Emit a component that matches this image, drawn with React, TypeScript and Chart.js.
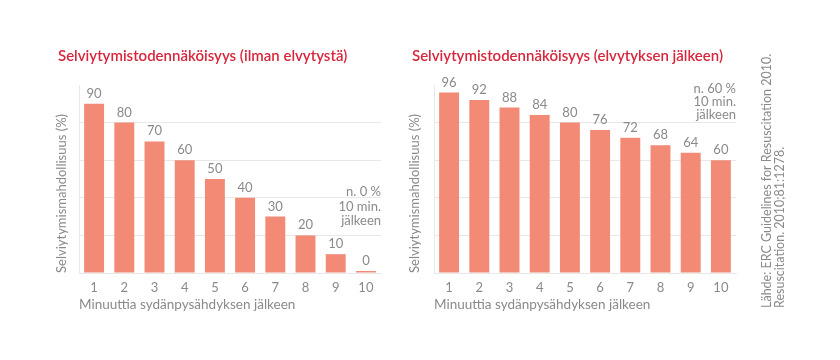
import React, { useEffect, useRef } from "react";
import { Chart, registerables } from "chart.js";

Chart.register(...registerables);

const minutes = ["1", "2", "3", "4", "5", "6", "7", "8", "9", "10"];
const survivalWithoutCpr = [90, 80, 70, 60, 50, 40, 30, 20, 10, 0];
const survivalWithCpr = [96, 92, 88, 84, 80, 76, 72, 68, 64, 60];
const titleWithoutCpr = "Selviytymistodennäköisyys (ilman elvytystä)";
const titleWithCpr = "Selviytymistodennäköisyys (elvytyksen jälkeen)";
const yAxisTitle = "Selviytymismahdollisuus (%)";
const xAxisTitle = "Minuuttia sydänpysähdyksen jälkeen";
const noteWithoutCpr = ["n. 0 %", "10 min.", "jälkeen"];
const noteWithCpr = ["n. 60 %", "10 min.", "jälkeen"];
const sourceLines = [
  "Lähde: ERC Guidelines for Resuscitation 2010.",
  "Resuscitation. 2010;81:1278.",
];

const FONT = "Lato, 'Open Sans', sans-serif";
const BAR = "#f28a75";
const RED = "#d7263c";
const GREY = "#8a8a8a";
const GRID = "#e8e8e8";

type Cfg = {
  data: number[];
  title: string;
  note: string[];
  noteOffsets: number[];
  padLeft: number;
  padRight: number;
  yWidth: number;
  yTitlePad: number;
  source?: boolean;
};

const labelsPlugin = {
  id: "barLabels",
  afterDatasetsDraw(chart: any) {
    const ctx = chart.ctx;
    const meta = chart.getDatasetMeta(0);
    const values = chart.data.datasets[0].data;
    ctx.save();
    ctx.font = `13px ${FONT}`;
    ctx.fillStyle = GREY;
    ctx.textAlign = "center";
    ctx.textBaseline = "alphabetic";
    meta.data.forEach((bar: any, i: number) => {
      ctx.fillText(String(values[i]), bar.x, bar.y - 6);
    });
    ctx.restore();
  },
};

const notePlugin = {
  id: "note",
  afterDraw(chart: any, _args: any, opts: any) {
    const ctx = chart.ctx;
    const area = chart.chartArea;
    ctx.save();
    ctx.font = `13px ${FONT}`;
    ctx.fillStyle = GREY;
    ctx.textAlign = "right";
    ctx.textBaseline = "middle";
    (opts.lines || []).forEach((t: string, i: number) => {
      ctx.fillText(t, area.right + (opts.dx || 0), area.top + opts.offsets[i]);
    });
    if (opts.source) {
      ctx.font = `12.5px ${FONT}`;
      ctx.textAlign = "left";
      ctx.translate(area.right + 31, 308);
      ctx.rotate(-Math.PI / 2);
      sourceLines.forEach((t, i) => ctx.fillText(t, 0, i * 13));
    }
    ctx.restore();
  },
};

function makeConfig(c: Cfg): any {
  return {
    type: "bar",
    data: {
      labels: minutes,
      datasets: [
        {
          data: c.data,
          backgroundColor: BAR,
          categoryPercentage: 1,
          barPercentage: 0.66,
          minBarLength: 2,
        },
      ],
    },
    plugins: [labelsPlugin, notePlugin],
    options: {
      animation: false,
      responsive: false,
      layout: { padding: { left: c.padLeft, right: c.padRight, top: 0, bottom: 0 } },
      plugins: {
        legend: { display: false },
        tooltip: { enabled: false },
        title: {
          display: true,
          text: c.title,
          align: "start",
          color: RED,
          font: { family: FONT, size: 15, weight: "600" },
          padding: { top: 47, bottom: 20 },
        },
        note: { lines: c.note, offsets: c.noteOffsets, dx: 0, source: !!c.source },
      },
      scales: {
        x: {
          afterFit: (s: any) => {
            s.height = 87;
          },
          grid: { display: false, drawTicks: false },
          border: { display: true, color: GRID },
          ticks: { color: GREY, font: { family: FONT, size: 13 }, padding: 7 },
          title: {
            display: true,
            text: xAxisTitle,
            align: "start",
            color: GREY,
            font: { family: FONT, size: 13.5 },
            padding: { top: 0, bottom: 47 },
          },
        },
        y: {
          min: 0,
          max: 100,
          afterFit: (s: any) => {
            s.width = c.yWidth;
          },
          ticks: { display: false, stepSize: 20 },
          grid: {
            drawTicks: false,
            color: (ctx: any) => (ctx.tick && ctx.tick.value === 100 ? "rgba(0,0,0,0)" : GRID),
          },
          border: { display: true, color: GRID },
          title: {
            display: true,
            text: yAxisTitle,
            align: "start",
            color: GREY,
            font: { family: FONT, size: 13 },
            padding: { top: c.yTitlePad, bottom: 0 },
          },
        },
      },
    },
  };
}

function BarChart(props: { cfg: Cfg; left: number; width: number }) {
  const ref = useRef<HTMLCanvasElement | null>(null);
  useEffect(() => {
    if (!ref.current) return;
    const chart = new Chart(ref.current, makeConfig(props.cfg));
    return () => chart.destroy();
  }, []);
  return (
    <canvas
      ref={ref}
      width={props.width}
      height={360}
      style={{ position: "absolute", left: props.left, top: 0, width: props.width, height: 360 }}
    />
  );
}

export default function App() {
  return (
    <div
      style={{
        position: "fixed",
        left: 0,
        top: 0,
        width: 840,
        height: 360,
        background: "#ffffff",
        overflow: "hidden",
      }}
    >
      <BarChart
        left={0}
        width={420}
        cfg={{
          data: survivalWithoutCpr,
          title: titleWithoutCpr,
          note: noteWithoutCpr,
          noteOffsets: [107, 121.5, 136],
          padLeft: 58,
          padRight: 39,
          yWidth: 21,
          yTitlePad: -3.8,
        }}
      />
      <BarChart
        left={400}
        width={440}
        cfg={{
          data: survivalWithCpr,
          title: titleWithCpr,
          note: noteWithCpr,
          noteOffsets: [4, 17, 30],
          padLeft: 12,
          padRight: 104,
          yWidth: 22,
          yTitlePad: -4.8,
          source: true,
        }}
      />
    </div>
  );
}
